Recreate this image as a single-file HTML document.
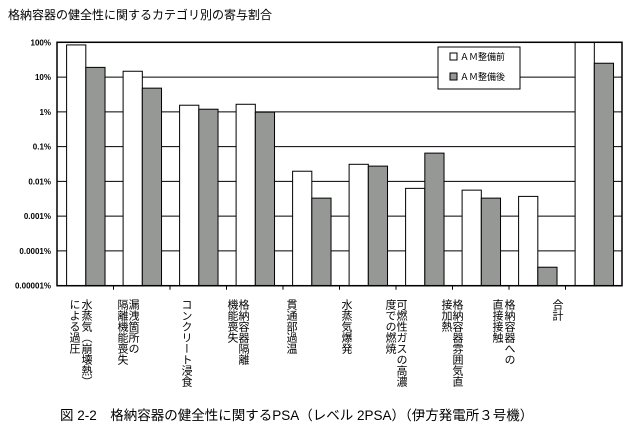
<!DOCTYPE html>
<html><head><meta charset="utf-8"><style>
body{margin:0;width:630px;height:425px;background:#fff;position:relative;overflow:hidden;font-family:"Liberation Sans","Noto Sans CJK JP",sans-serif;}
.vl{position:absolute;top:299px;writing-mode:vertical-rl;font-size:11px;line-height:11px;width:12px;color:#000;font-family:"Liberation Sans","Noto Sans CJK JP",sans-serif;}
</style></head><body>
<div style="position:absolute;left:8px;top:6px;font-size:12px;">格納容器の健全性に関するカテゴリ別の寄与割合</div>
<svg id="chart" width="630" height="425" style="position:absolute;left:0;top:0"></svg>
<div id="labels"></div>
<div style="position:absolute;left:60px;top:404px;font-size:13.5px;white-space:nowrap;">図 2-2　格納容器の健全性に関するPSA（レベル 2PSA）（伊方発電所３号機）</div>
<script>
const categories=["水蒸気（崩壊熱）による過圧","漏洩箇所の隔離機能喪失","コンクリート浸食","格納容器隔離機能喪失","貫通部過温","水蒸気爆発","可燃性ガスの高濃度での燃焼","格納容器雰囲気直接加熱","格納容器への直接接触","合計"];
const before=[84,14.7,1.55,1.65,0.0196,0.031,0.0063,0.0056,0.0037,100];
const after=[19,4.8,1.19,0.98,0.0033,0.0275,0.065,0.0033,0.000034,25];
const tickLabels=["100%","10%","1%","0.1%","0.01%","0.001%","0.0001%","0.00001%"];
const tickValues=[100,10,1,0.1,0.01,0.001,0.0001,0.00001];
const labelCols=[["水蒸気（崩壊熱）","による過圧"],["漏洩箇所の","隔離機能喪失"],["コンクリート浸食"],["格納容器隔離","機能喪失"],["貫通部過温"],["水蒸気爆発"],["可燃性ガスの高濃","度での燃焼"],["格納容器雰囲気直","接加熱"],["格納容器への","直接接触"],["合計"]];
const labelX=[[85,73],[132,121],[185],[242,231],[290],[345],[400,389],[456,445],[508,496],[556]];

const L=57,R=622,T=42.3,B=285.7;
const NS="http://www.w3.org/2000/svg";
const svg=document.getElementById('chart');
function y(v){const lv=Math.log10(Math.min(v,100));return T+(2-lv)/7*(B-T);}
const cw=(R-L)/categories.length;
function mk(t,a){const e=document.createElementNS(NS,t);for(const k in a)e.setAttribute(k,a[k]);svg.appendChild(e);return e;}
tickValues.forEach((v,i)=>{
  const g=mk('line',{x1:L,x2:R,y1:y(v),y2:y(v),stroke:'#000','stroke-width':1});
  
  
  const t=mk('text',{x:51,y:y(v)+3,'text-anchor':'end','font-size':8,'font-weight':'bold','font-family':'Liberation Sans, sans-serif'});
  t.textContent=tickLabels[i];
  
  
});
for(let i=1;i<categories.length;i++){
  const tk=mk('line',{x1:L+cw*i,x2:L+cw*i,y1:B,y2:B+4,stroke:'#000'});
  
  
}
categories.forEach((c,i)=>{
  const x0=L+cw*i+cw*0.17, bw=cw*0.34;
  const b1=mk('rect',{x:x0,y:y(before[i]),width:bw,height:B-y(before[i]),fill:'#fff',stroke:'#000','stroke-width':1});
  
  
  const b2=mk('rect',{x:x0+bw,y:y(after[i]),width:bw,height:B-y(after[i]),fill:'#969896',stroke:'#000','stroke-width':1});
  
  
});
const frame=mk('rect',{x:L,y:T,width:R-L,height:B-T,fill:'none',stroke:'#000','stroke-width':1.5});


// legend
const lg=mk('rect',{x:438,y:47,width:82,height:42,fill:'#fff',stroke:'#000'});


[['#fff','ＡＭ整備前',60],['#969896','ＡＭ整備後',80]].forEach(([f,s,yy])=>{
  const r=mk('rect',{x:450,y:yy-7,width:7,height:7,fill:f,stroke:'#000'});
  
  
  const t=mk('text',{x:460,y:yy,'font-size':9,'font-family':'Liberation Sans, Noto Sans CJK JP, sans-serif'});
  t.textContent=s;
  
  
});
const lab=document.getElementById('labels');
labelCols.forEach((cols,i)=>{
  cols.forEach((s,j)=>{
    const d=document.createElement('div');
    d.className='vl';
    d.style.left=(labelX[i][j]-6)+'px';
    d.textContent=s;
    
    
    lab.appendChild(d);
  });
});
</script>
</body></html>
